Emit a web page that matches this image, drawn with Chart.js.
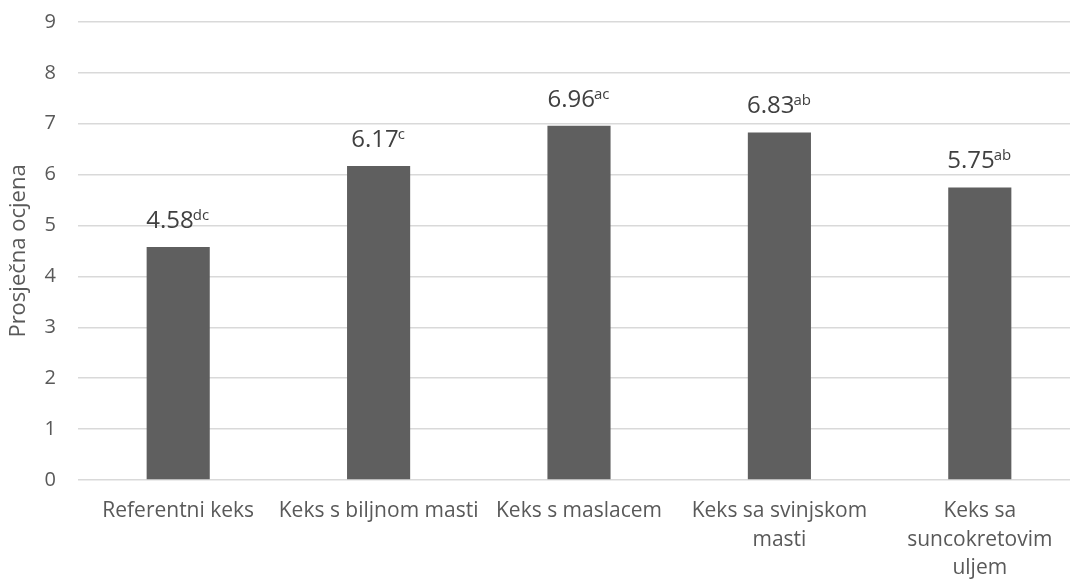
<!DOCTYPE html>
<html>
<head>
<meta charset="utf-8">
<script src="https://cdn.jsdelivr.net/npm/chart.js@4.4.1/dist/chart.umd.min.js"></script>
<style>
  html, body { margin: 0; padding: 0; background: #fff; overflow: hidden; }
  #wrap { width: 1080px; height: 579px; }
</style>
</head>
<body>
<div id="wrap"><canvas id="chart"></canvas></div>
<script>
// Chart data
const categories = [
  "Referentni keks",
  "Keks s biljnom masti",
  "Keks s maslacem",
  ["Keks sa svinjskom", "masti"],
  ["Keks sa", "suncokretovim", "uljem"],
];
const scores = [4.58, 6.17, 6.96, 6.83, 5.75];
const letters = ["dc", "c", "ac", "ab", "ab"];
const yTicks = [0, 1, 2, 3, 4, 5, 6, 7, 8, 9];

const fontFamily = "'Open Sans', sans-serif";
const textColor = "#595959";

// Value labels with superscript letters above bars
const valueLabels = {
  id: "valueLabels",
  afterDatasetsDraw(chart) {
    const ctx = chart.ctx;
    const meta = chart.getDatasetMeta(0);
    ctx.save();
    ctx.fillStyle = "#404040";
    ctx.textBaseline = "alphabetic";
    ctx.textAlign = "left";
    meta.data.forEach((bar, i) => {
      const main = scores[i].toFixed(2);
      const sup = letters[i];
      ctx.font = "24px " + fontFamily;
      const w1 = ctx.measureText(main).width;
      ctx.font = "15px " + fontFamily;
      const w2 = ctx.measureText(sup).width;
      const x0 = bar.x - (w1 + w2) / 2;
      const y0 = bar.y - 19;
      ctx.font = "24px " + fontFamily;
      ctx.fillText(main, x0, y0);
      ctx.font = "15px " + fontFamily;
      ctx.fillText(sup, x0 + w1 - 1, y0 - 8);
    });
    ctx.restore();
  },
};

new Chart(document.getElementById("chart"), {
  type: "bar",
  data: {
    labels: categories,
    datasets: [{
      data: scores,
      backgroundColor: "#5f5f5f",
      borderWidth: 0,
      categoryPercentage: 1,
      barPercentage: 0.315,
    }],
  },
  options: {
    responsive: true,
    maintainAspectRatio: false,
    animation: false,
    layout: { padding: { top: 22, left: 0, right: 0, bottom: 0 } },
    plugins: {
      legend: { display: false },
      tooltip: { enabled: false },
    },
    scales: {
      x: {
        grid: { display: false },
        border: { display: false },
        ticks: {
          color: textColor,
          font: { family: fontFamily, size: 21, lineHeight: 1.35 },
          padding: 9,
          maxRotation: 0,
          autoSkip: false,
        },
        afterFit(scale) { scale.height = 99; },
      },
      y: {
        min: 0,
        max: 9,
        afterBuildTicks(scale) { scale.ticks = yTicks.map((v) => ({ value: v })); },
        grid: { color: "#d9d9d9", lineWidth: 1.5, drawTicks: false },
        border: { display: false },
        ticks: {
          color: textColor,
          font: { family: fontFamily, size: 20 },
          padding: 22,
        },
        title: {
          display: true,
          text: "Prosječna ocjena",
          color: textColor,
          font: { family: fontFamily, size: 22 },
          padding: { top: 6, bottom: 0 },
        },
        afterFit(scale) {
          scale.width = 78;
          scale.paddingTop = 0;
          scale.paddingBottom = 0;
        },
      },
    },
  },
  plugins: [valueLabels],
});
</script>
</body>
</html>
